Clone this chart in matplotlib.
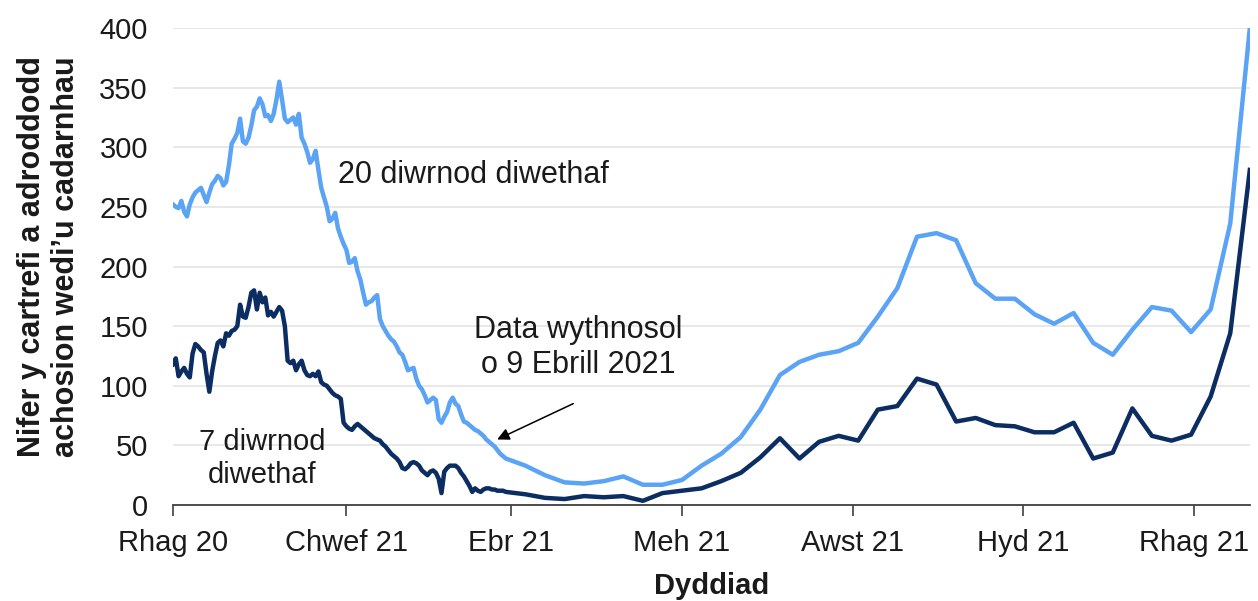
import matplotlib
matplotlib.use("Agg")
import matplotlib.pyplot as plt
import pandas as pd

plt.rcParams['font.family'] = ['Liberation Sans', 'DejaVu Sans']

# daily data, 1 Dec 2020 - 29 Mar 2021
daily_dates = pd.date_range('2020-12-01', '2021-03-29', freq='D')
# weekly data after that
weekly_dates = pd.date_range('2021-03-30', '2021-12-21', freq='7D')

last20_daily = [
    252, 250, 249, 255, 246, 242, 252, 258, 262, 264,
    266, 260, 254, 262, 269, 272, 276, 274, 268, 271,
    285, 303, 307, 312, 324, 305, 303, 308, 318, 331,
    334, 341, 336, 326, 327, 322, 328, 340, 355, 340,
    324, 321, 323, 325, 319, 328, 308, 303, 296, 287,
    290, 297, 281, 266, 258, 250, 238, 240, 245, 232,
    225, 219, 214, 203, 204, 207, 196, 189, 178, 168,
    170, 171, 174, 176, 156, 150, 146, 142, 139, 137,
    133, 128, 126, 120, 113, 114, 115, 106, 100, 97,
    92, 86, 88, 90, 88, 72, 69, 74, 78, 86,
    90, 85, 83, 76, 70, 69, 67, 65, 63, 62,
    60, 58, 55, 53, 51, 49, 46, 43, 41,
]
last20_weekly = [
    39, 33, 25, 19, 18, 20, 24, 17, 17, 21,
    33, 43, 57, 80, 109, 120, 126, 129, 136, 158,
    182, 225, 228, 222, 186, 173, 173, 160, 152, 161,
    136, 126, 147, 166, 163, 145, 164, 236, 400,
]

last7_daily = [
    118, 123, 108, 112, 115, 110, 107, 127, 135, 133,
    130, 128, 110, 95, 112, 125, 136, 138, 133, 144,
    142, 146, 147, 150, 168, 158, 157, 166, 178, 180,
    164, 178, 170, 174, 159, 162, 158, 162, 166, 163,
    150, 121, 119, 121, 113, 118, 121, 113, 109, 108,
    110, 108, 112, 103, 101, 100, 97, 94, 92, 91,
    89, 69, 66, 64, 63, 66, 68, 66, 64, 62,
    60, 58, 56, 55, 54, 51, 49, 46, 43, 41,
    39, 36, 31, 30, 32, 35, 36, 35, 33, 29,
    27, 25, 28, 29, 27, 22, 10, 28, 31, 33,
    33, 33, 31, 27, 24, 20, 16, 11, 14, 12,
    11, 13, 14, 14, 13, 13, 12, 12, 12,
]
last7_weekly = [
    11, 9, 6, 5, 7.5, 6.5, 7.5, 3.5, 10, 12,
    14, 20, 27, 40, 56, 39, 53, 58, 54, 80,
    83, 106, 101, 70, 73, 67, 66, 61, 61, 69,
    39, 44, 81, 58, 54, 59, 91, 144, 281,
]

tick_dates = pd.to_datetime(['2020-12-01', '2021-02-01', '2021-04-01', '2021-06-01',
                             '2021-08-01', '2021-10-01', '2021-12-01'])
tick_labels = ['Rhag 20', 'Chwef 21', 'Ebr 21', 'Meh 21', 'Awst 21', 'Hyd 21', 'Rhag 21']

light = '#5ba4f5'
dark = '#0c2d62'
txt = '#1a1a1a'

dates = list(daily_dates) + list(weekly_dates)
last20 = last20_daily + last20_weekly
last7 = last7_daily + last7_weekly

fig = plt.figure(figsize=(12.58, 6.01), dpi=100)
ax = fig.add_axes([0.1375, 0.1597, 0.856, 0.7937])

ax.plot(dates, last20, color=light, lw=3.2, solid_joinstyle='round')
ax.plot(dates, last7, color=dark, lw=3.2, solid_joinstyle='round')

ax.set_ylim(0, 400)
ax.set_yticks(range(0, 401, 50))
ax.set_xlim(pd.Timestamp('2020-12-01'), pd.Timestamp('2021-12-21'))
ax.set_xticks(tick_dates)
ax.set_xticklabels(tick_labels)

ax.grid(axis='y', color='#e4e4e4', lw=1.2)
ax.set_axisbelow(True)
for s in ['top', 'right', 'left']:
    ax.spines[s].set_visible(False)
ax.spines['bottom'].set_color('#404040')
ax.spines['bottom'].set_linewidth(1.3)
ax.tick_params(axis='y', length=0, labelsize=21, labelcolor=txt, pad=18)
ax.tick_params(axis='x', length=8, width=1.2, color='#404040', labelsize=21,
               labelcolor=txt, pad=9)

ax.set_ylabel('Nifer y cartrefi a adroddodd\nachosion wedi\u2019u cadarnhau',
              fontsize=22, fontweight='bold', color=txt, linespacing=1.2)
ax.yaxis.set_label_coords(-0.085, 0.52)
ax.set_xlabel('Dyddiad', fontsize=21, fontweight='bold', color=txt)
ax.xaxis.set_label_coords(0.5, -0.14)

ax.text(pd.Timestamp('2021-01-29'), 277, '20 diwrnod diwethaf', fontsize=22,
        color=txt, ha='left', va='center')
ax.text(pd.Timestamp('2021-01-02'), 39, '7 diwrnod\ndiwethaf', fontsize=21,
        color=txt, ha='center', va='center', linespacing=1.25)
ax.annotate('', xy=(pd.Timestamp('2021-03-26'), 54), xytext=(pd.Timestamp('2021-04-24'), 86),
            arrowprops=dict(arrowstyle='-|>', color='black', lw=1.1, mutation_scale=18))
ax.text(pd.Timestamp('2021-04-25'), 132, 'Data wythnosol\no 9 Ebrill 2021', fontsize=22,
        color=txt, ha='center', va='center', linespacing=1.2)

fig.savefig('out.png', dpi=100)
